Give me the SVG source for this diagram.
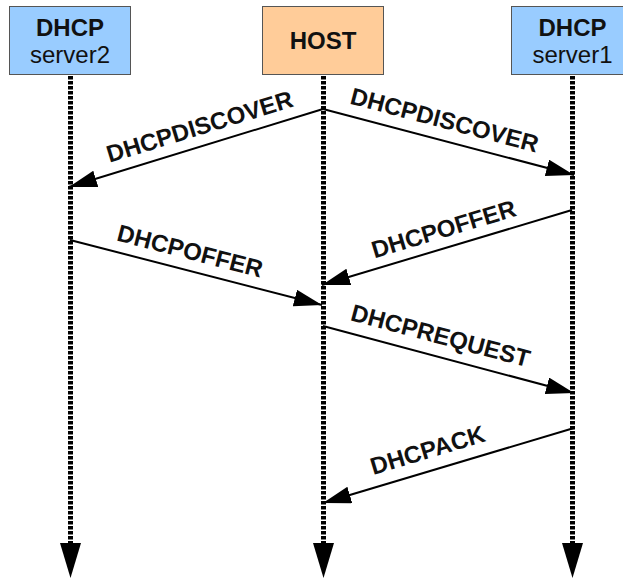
<svg xmlns="http://www.w3.org/2000/svg" width="623" height="578" viewBox="0 0 623 578">
  <style>
    .box { stroke: #555555; stroke-width: 1; }
    .srv { fill: #99ccff; }
    .host { fill: #ffcc99; }
    .t { font-family: "Liberation Sans", Arial, sans-serif; font-size: 24px; fill: #111111; text-anchor: middle; }
    .b { font-weight: bold; }
    .life { stroke: #000000; stroke-width: 5; stroke-dasharray: 3.4 1.6; fill: none; }
    .msg { stroke: #000000; stroke-width: 2; fill: none; marker-end: url(#ah); }
    .lbl { font-family: "Liberation Sans", Arial, sans-serif; font-size: 24px; font-weight: bold; fill: #111111; text-anchor: middle; }
  </style>
  <defs>
    <marker id="ah" markerUnits="userSpaceOnUse" markerWidth="30" markerHeight="18" refX="28" refY="8.5" orient="auto">
      <path d="M0,0 L28,8.5 L0,17 z" fill="#000000"/>
    </marker>
    <marker id="lh" markerUnits="userSpaceOnUse" markerWidth="36" markerHeight="22" refX="0" refY="10.5" orient="auto">
      <path d="M0,0 L35,10.5 L0,21 z" fill="#000000"/>
    </marker>
  </defs>

  <g id="server2">
    <rect class="box srv" x="9.5" y="6.5" width="121" height="68"/>
    <text class="t b" x="70" y="36">DHCP</text>
    <text class="t" x="70" y="63">server2</text>
  </g>
  <g id="host">
    <rect class="box host" x="262.5" y="6.5" width="121" height="68"/>
    <text class="t b" x="323" y="49">HOST</text>
  </g>
  <g id="server1">
    <rect class="box srv" x="511.5" y="6.5" width="121" height="68"/>
    <text class="t b" x="572.5" y="36">DHCP</text>
    <text class="t" x="572.5" y="63">server1</text>
  </g>

  <g id="connectors">
    <line class="life" x1="70.5" y1="76" x2="70.5" y2="543" marker-end="url(#lh)"/>
    <line class="life" x1="323.5" y1="76" x2="323.5" y2="543" marker-end="url(#lh)"/>
    <line class="life" x1="572.5" y1="76" x2="572.5" y2="543" marker-end="url(#lh)"/>

    <line class="msg" x1="323" y1="109" x2="69" y2="187"/>
    <line class="msg" x1="323" y1="109" x2="574" y2="175"/>
    <line class="msg" x1="572" y1="210" x2="322" y2="285"/>
    <line class="msg" x1="70" y1="240" x2="322" y2="305"/>
    <line class="msg" x1="323" y1="326" x2="574" y2="393"/>
    <line class="msg" x1="574" y1="428" x2="323" y2="503"/>
  </g>

  <g id="labels">
    <text class="lbl" transform="translate(202,134.5) rotate(-17)">DHCPDISCOVER</text>
    <text class="lbl" transform="translate(442.5,128) rotate(14.7)">DHCPDISCOVER</text>
    <text class="lbl" transform="translate(446,237) rotate(-16.7)">DHCPOFFER</text>
    <text class="lbl" transform="translate(188,259) rotate(14.5)">DHCPOFFER</text>
    <text class="lbl" transform="translate(438.5,343.7) rotate(14.9)">DHCPREQUEST</text>
    <text class="lbl" transform="translate(430,458) rotate(-16.6)">DHCPACK</text>
  </g>
</svg>
